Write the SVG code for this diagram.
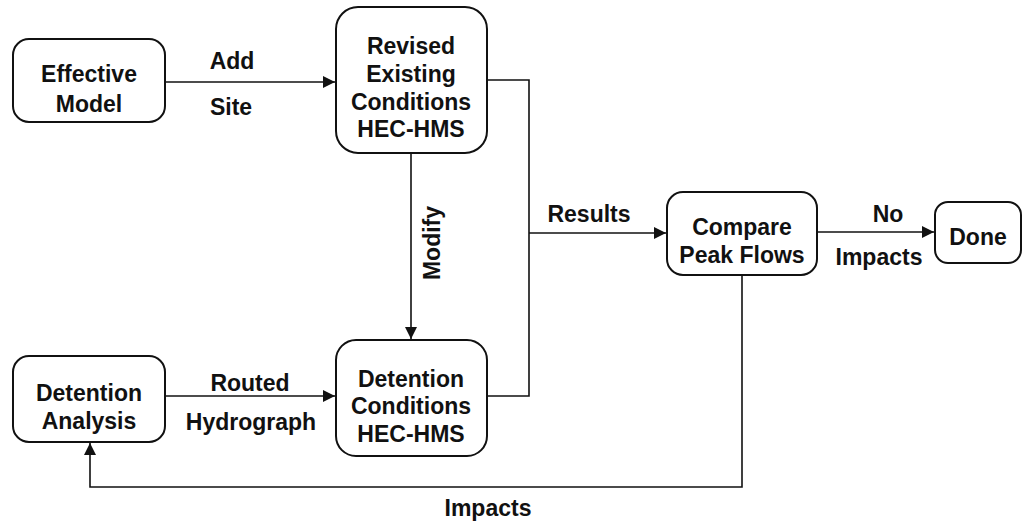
<svg xmlns="http://www.w3.org/2000/svg" width="1023" height="523" viewBox="0 0 1023 523">
<style>
.box{fill:#fff;stroke:#111;stroke-width:2}
.t{font-family:"Liberation Sans",Arial,sans-serif;font-weight:bold;font-size:23px;fill:#111;text-anchor:middle}
.c{fill:none;stroke:#111;stroke-width:1.6}
</style>
<defs>
<marker id="ah" viewBox="0 0 10 10" refX="10" refY="5" markerWidth="12" markerHeight="12" markerUnits="userSpaceOnUse" orient="auto">
<path d="M0,0 L10,5 L0,10 Z" fill="#111"/>
</marker>
</defs>
<rect width="1023" height="523" fill="#fff"/>
<g id="connectors">
<line class="c" x1="165" y1="82" x2="335" y2="82" marker-end="url(#ah)"/>
<line class="c" x1="411" y1="153" x2="411" y2="339" marker-end="url(#ah)"/>
<line class="c" x1="165" y1="396" x2="335" y2="396" marker-end="url(#ah)"/>
<polyline class="c" points="487,80 529,80 529,396 487,396"/>
<line class="c" x1="529" y1="233" x2="666" y2="233" marker-end="url(#ah)"/>
<line class="c" x1="817" y1="232" x2="934" y2="232" marker-end="url(#ah)"/>
<polyline class="c" points="742,275 742,487 90,487 90,443" marker-end="url(#ah)"/>
<text class="t" x="232" y="69">Add</text>
<text class="t" x="231" y="115">Site</text>
<text class="t" transform="translate(440,243) rotate(-90)">Modify</text>
<text class="t" x="250" y="391">Routed</text>
<text class="t" x="251" y="430">Hydrograph</text>
<text class="t" x="589" y="222">Results</text>
<text class="t" x="888" y="222">No</text>
<text class="t" x="879" y="265">Impacts</text>
<text class="t" x="488" y="516">Impacts</text>
</g>
<g id="effective">
<rect class="box" x="13" y="39" width="152" height="83" rx="16"/>
<text class="t" x="89" y="82">Effective</text>
<text class="t" x="89" y="112">Model</text>
</g>
<g id="revised">
<rect class="box" x="336" y="7" width="151" height="146" rx="22"/>
<text class="t" x="411" y="54">Revised</text>
<text class="t" x="411" y="82">Existing</text>
<text class="t" x="411" y="110">Conditions</text>
<text class="t" x="411" y="137">HEC-HMS</text>
</g>
<g id="detention-analysis">
<rect class="box" x="13" y="356" width="152" height="86" rx="16"/>
<text class="t" x="89" y="401">Detention</text>
<text class="t" x="89" y="429">Analysis</text>
</g>
<g id="detention-conditions">
<rect class="box" x="336" y="340" width="151" height="116" rx="20"/>
<text class="t" x="411" y="387">Detention</text>
<text class="t" x="411" y="414">Conditions</text>
<text class="t" x="411" y="442">HEC-HMS</text>
</g>
<g id="compare">
<rect class="box" x="667" y="192" width="150" height="83" rx="16"/>
<text class="t" x="742" y="235">Compare</text>
<text class="t" x="742" y="263">Peak Flows</text>
</g>
<g id="done">
<rect class="box" x="935" y="202" width="86" height="61" rx="13"/>
<text class="t" x="978" y="245">Done</text>
</g>
</svg>
